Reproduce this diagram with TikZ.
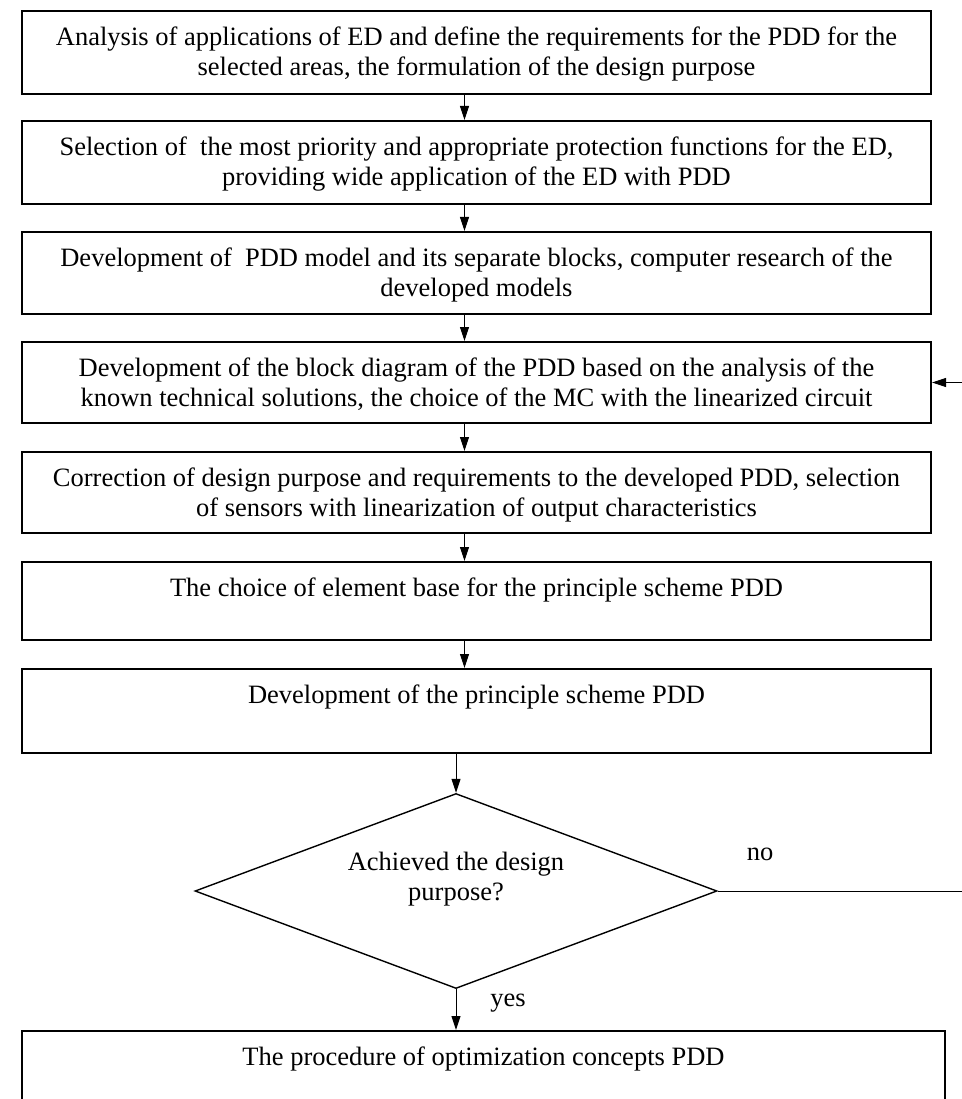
\documentclass[tikz,border=0pt]{standalone}
\usepackage{fontspec}
\setmainfont{Liberation Serif}
\usetikzlibrary{arrows.meta,positioning,shapes.geometric}

\tikzset{
  stepbox/.style={draw,line width=2pt,minimum width=909pt,inner sep=0pt},
  steptext/.style={align=center,inner sep=0pt,font=\fontsize{26.5}{29.5}\selectfont},
  decision/.style={draw,diamond,line width=1.4pt,minimum width=522pt,minimum height=195pt,inner sep=0pt},
  flow/.style={-{Triangle[length=14pt,width=9pt]},line width=1pt},
}

\begin{document}
\begin{tikzpicture}[x=1pt,y=-1pt]
\useasboundingbox (0,0) rectangle (961,1099);

% process steps
\node[stepbox,minimum height=83pt] (s1) at (476.5,52.5) {};
\node[steptext,below=17pt of s1.north] (t1) {Analysis of applications of ED and define the requirements for the PDD for the\\selected areas, the formulation of the design purpose};
\node[stepbox,minimum height=83pt] (s2) at (476.5,162.5) {};
\node[steptext,below=17pt of s2.north] (t2) {Selection of\ \ the most priority and appropriate protection functions for the ED,\\providing wide application of the ED with PDD};
\node[stepbox,minimum height=82pt] (s3) at (476.5,273) {};
\node[steptext,below=17pt of s3.north] (t3) {Development of\ \ PDD model and its separate blocks, computer research of the\\developed models};
\node[stepbox,minimum height=81pt] (s4) at (476.5,382.5) {};
\node[steptext,below=17pt of s4.north] (t4) {Development of the block diagram of the PDD based on the analysis of the\\known technical solutions, the choice of the MC with the linearized circuit};
\node[stepbox,minimum height=81pt] (s5) at (476.5,492.5) {};
\node[steptext,below=17pt of s5.north] (t5) {Correction of design purpose and requirements to the developed PDD, selection\\of sensors with linearization of output characteristics};
\node[stepbox,minimum height=78pt] (s6) at (476.5,601) {};
\node[steptext,below=17pt of s6.north] (t6) {The choice of element base for the principle scheme PDD};
\node[stepbox,minimum height=84pt] (s7) at (476.5,711) {};
\node[steptext,below=17pt of s7.north] (t7) {Development of the principle scheme PDD};

% check
\node[decision] (d) at (456,891) {};
\node[steptext] (dt) at (456,879) {Achieved the design\\purpose?};

% last step, cut off at the bottom
\node[stepbox,minimum width=923pt,minimum height=100pt] (s8) at (483.5,1081) {};
\node[steptext,below=17pt of s8.north] (t8) {The procedure of optimization concepts PDD};

\foreach \a/\b in {s1/s2,s2/s3,s3/s4,s4/s5,s5/s6,s6/s7}
  \draw[flow] ([xshift=-12pt]\a.south) -- ([xshift=-12pt]\b.north);
\draw[flow] (s7.south -| d.north) -- (d.north);
\draw[flow] (d.south) -- (s8.north -| d.south);

% back to the block diagram
\coordinate (fb) at (966,891);
\draw[flow] (d.east) -- (fb) |- (s4.east);

\node[steptext] (no) at (760,854) {no};
\node[steptext] (yes) at (508,1003) {yes};
\end{tikzpicture}
\end{document}
